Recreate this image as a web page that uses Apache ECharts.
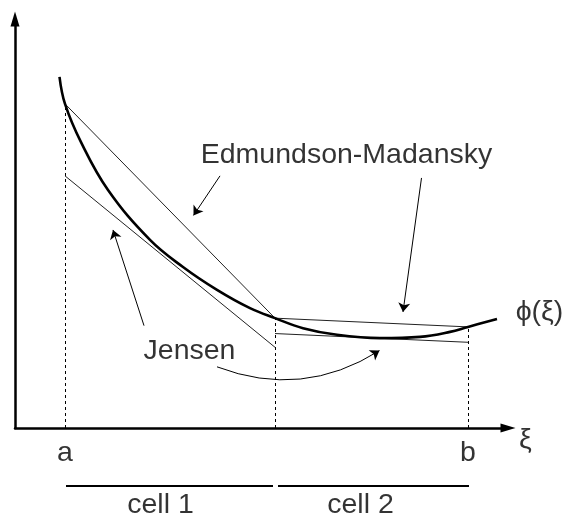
<!DOCTYPE html>
<html>
<head>
<meta charset="utf-8">
<title>Jensen / Edmundson-Madansky</title>
<script src="https://cdn.jsdelivr.net/npm/echarts@6/dist/echarts.min.js"></script>
<style>
  html, body { margin: 0; padding: 0; background: #fff; }
  #chart { width: 567px; height: 518px; }
</style>
</head>
<body>
<div id="chart"></div>
<script>
// phi(xi) 曲线上读出的点
var curveX = [0.89, 1.0, 1.32, 1.86, 2.7, 3.36, 4.04, 4.7, 5.2, 5.76, 6.44, 7.3, 8.1, 8.7, 9.06, 9.64];
var curveY = [8.44, 7.79, 6.87, 5.72, 4.52, 3.87, 3.32, 2.88, 2.64, 2.40, 2.24, 2.16, 2.19, 2.31, 2.43, 2.62];
// a, 分割点, b 以及对应的 phi 值
var cellX = [1.0, 5.2, 9.06];
var cellPhi = [7.79, 2.64, 2.43];
// Edmundson-Madansky 弦
var emStart = [[1.0, 7.79], [5.2, 2.64]];
var emEnd = [[5.2, 2.64], [9.06, 2.43]];
// Jensen 切线
var jensenStart = [[1.0, 6.06], [5.2, 2.27]];
var jensenEnd = [[5.2, 1.94], [9.06, 2.06]];
// 注释箭头
var arrowFrom = [[4.1, 6.06], [8.13, 6.01], [2.58, 2.46], [4.04, 1.47]];
var arrowTo = [[3.57, 5.11], [7.76, 2.79], [1.96, 4.76], [7.29, 1.86]];
var arrowBend = [0, 0, 0, -0.25];
// cell 横线
var cellBarStart = [[1.02, -1.394], [5.26, -1.394]];
var cellBarEnd = [[5.16, -1.394], [9.08, -1.394]];
// 文字
var textNames = ['Edmundson-Madansky', 'Jensen', 'ϕ(ξ)', 'ξ', 'a', 'b', 'cell 1', 'cell 2'];
var textX = [6.63, 3.49, 10.49, 10.21, 1.0, 9.06, 2.91, 6.91];
var textY = [6.56, 1.85, 2.79, -0.29, -0.60, -0.60, -1.85, -1.85];

var fontFamily = '"Liberation Sans", Arial, sans-serif';

function pairs(from, to) {
  var out = [];
  for (var i = 0; i < from.length; i++) {
    out.push({ coords: [from[i], to[i]] });
  }
  return out;
}

var chart = echarts.init(document.getElementById('chart'));

var curveData = curveX.map(function (x, i) { return [x, curveY[i]]; });

var dashData = cellX.map(function (x, i) {
  return { coords: [[x, 0], [x, cellPhi[i]]] };
});

var arrowData = arrowFrom.map(function (p, i) {
  return { coords: [p, arrowTo[i]], lineStyle: { curveness: arrowBend[i] } };
});

var textData = textNames.map(function (t, i) {
  return { name: t, value: [textX[i], textY[i]] };
});

var axisCommon = {
  type: 'value',
  min: 0,
  axisLine: {
    show: true,
    symbol: ['none', 'triangle'],
    symbolSize: [9, 15],
    lineStyle: { color: '#000', width: 2.5 }
  },
  axisTick: { show: false },
  axisLabel: { show: false },
  splitLine: { show: false }
};

var option = {
  animation: false,
  backgroundColor: '#fff',
  grid: { left: 15, right: 59, top: 19, bottom: 90 },
  xAxis: Object.assign({}, axisCommon, { max: 9.86 }),
  yAxis: Object.assign({}, axisCommon, { max: 9.83 }),
  series: [
    { // 虚线
      type: 'lines',
      coordinateSystem: 'cartesian2d',
      clip: false,
      data: dashData,
      lineStyle: { color: '#000', width: 1, type: [3, 3], opacity: 1 }
    },
    { // 弦
      type: 'lines',
      coordinateSystem: 'cartesian2d',
      data: pairs(emStart, emEnd),
      lineStyle: { color: '#222', width: 1, opacity: 1 }
    },
    { // 切线
      type: 'lines',
      coordinateSystem: 'cartesian2d',
      data: pairs(jensenStart, jensenEnd),
      lineStyle: { color: '#222', width: 1, opacity: 1 }
    },
    { // phi 曲线
      type: 'line',
      data: curveData,
      smooth: 0.4,
      showSymbol: false,
      lineStyle: { color: '#000', width: 2.6 }
    },
    { // 箭头
      type: 'lines',
      coordinateSystem: 'cartesian2d',
      clip: false,
      data: arrowData,
      symbol: ['none', 'arrow'],
      symbolSize: 9,
      lineStyle: { color: '#000', width: 1, opacity: 1 }
    },
    { // cell 横线
      type: 'lines',
      coordinateSystem: 'cartesian2d',
      clip: false,
      data: pairs(cellBarStart, cellBarEnd),
      lineStyle: { color: '#000', width: 2, opacity: 1 }
    },
    { // 文字
      type: 'scatter',
      clip: false,
      symbolSize: 0,
      data: textData,
      label: {
        show: true,
        position: 'inside',
        formatter: '{b}',
        color: '#000',
        fontSize: 28.5,
        fontFamily: fontFamily
      }
    }
  ]
};

chart.setOption(option);
window.addEventListener('resize', function () {
  chart.resize();
});
</script>
</body>
</html>
